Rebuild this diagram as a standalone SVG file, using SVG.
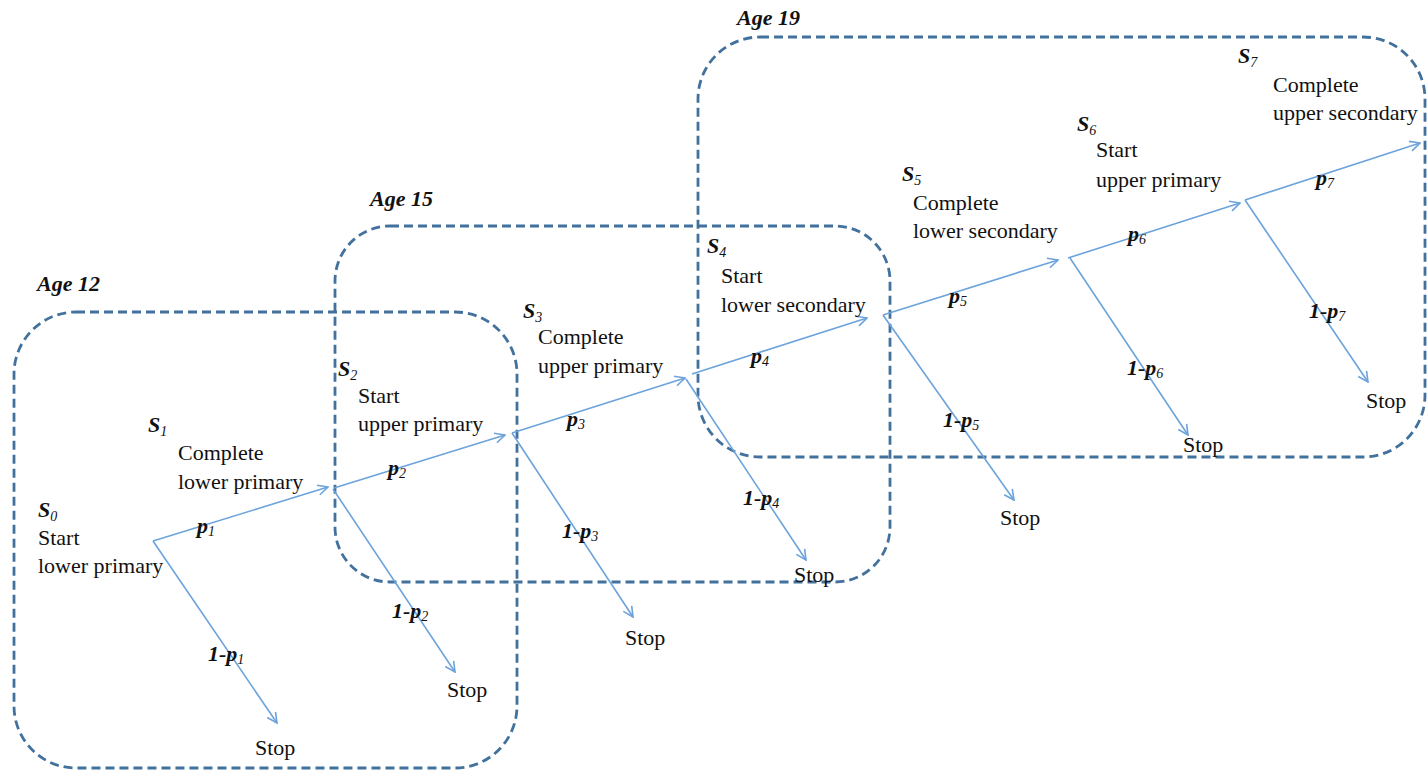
<svg xmlns="http://www.w3.org/2000/svg" width="1427" height="771" viewBox="0 0 1427 771">
<style>
.box{fill:none;stroke:#41719C;stroke-width:2.8;stroke-dasharray:9 5}
.arr{fill:none;stroke:#6CA3DC;stroke-width:1.6;marker-end:url(#ah)}
.t{font-family:"Liberation Serif","Times New Roman",serif;font-size:22px;fill:#111}
.b{font-family:"Liberation Serif","Times New Roman",serif;font-size:22px;font-weight:bold;font-style:italic;fill:#111}
.sub{font-size:14px;font-weight:normal}
.age{font-family:"Liberation Serif","Times New Roman",serif;font-size:22px;font-weight:bold;font-style:italic;fill:#111}
</style>
<defs>
<marker id="ah" viewBox="0 0 12 12" refX="11" refY="6" markerWidth="12" markerHeight="12" markerUnits="userSpaceOnUse" orient="auto">
<path d="M1,1 L11,6 L1,11" fill="none" stroke="#6CA3DC" stroke-width="1.6"/>
</marker>
</defs>
<rect width="1427" height="771" fill="#fff"/>
<g id="age12">
<rect class="box" x="14" y="312" width="503" height="456" rx="62"/>
<text class="age" x="37" y="291">Age 12</text>
</g>
<g id="age15">
<rect class="box" x="335" y="226" width="555" height="356" rx="55"/>
<text class="age" x="370" y="206">Age 15</text>
</g>
<g id="age19">
<rect class="box" x="698" y="37" width="727" height="420" rx="62"/>
<text class="age" x="737" y="25">Age 19</text>
</g>
<g id="connectors">
<line class="arr" x1="153" y1="541" x2="328" y2="487"/>
<line class="arr" x1="153" y1="541" x2="277" y2="723"/>
<line class="arr" x1="334" y1="488" x2="505" y2="435"/>
<line class="arr" x1="333" y1="489" x2="455" y2="672"/>
<line class="arr" x1="512" y1="433" x2="685" y2="378"/>
<line class="arr" x1="512" y1="433" x2="633" y2="617"/>
<line class="arr" x1="692" y1="374" x2="867" y2="318"/>
<line class="arr" x1="686" y1="379" x2="806" y2="560"/>
<line class="arr" x1="883" y1="315" x2="1058" y2="260"/>
<line class="arr" x1="883" y1="315" x2="1014" y2="500"/>
<line class="arr" x1="1068" y1="258" x2="1240" y2="203"/>
<line class="arr" x1="1070" y1="258" x2="1188" y2="435"/>
<line class="arr" x1="1245" y1="200" x2="1420" y2="143"/>
<line class="arr" x1="1245" y1="200" x2="1368" y2="382"/>
</g>
<g id="s0">
<text class="b" x="38" y="517">S<tspan class="sub" dy="4">0</tspan></text>
<text class="t" x="38" y="545">Start</text>
<text class="t" x="38" y="573">lower primary</text>
</g>
<g id="s1">
<text class="b" x="148" y="432">S<tspan class="sub" dy="4">1</tspan></text>
<text class="t" x="178" y="460">Complete</text>
<text class="t" x="178" y="489">lower primary</text>
</g>
<g id="s2">
<text class="b" x="338" y="376">S<tspan class="sub" dy="4">2</tspan></text>
<text class="t" x="358" y="403">Start</text>
<text class="t" x="358" y="431">upper primary</text>
</g>
<g id="s3">
<text class="b" x="523" y="318">S<tspan class="sub" dy="4">3</tspan></text>
<text class="t" x="538" y="344">Complete</text>
<text class="t" x="538" y="373">upper primary</text>
</g>
<g id="s4">
<text class="b" x="707" y="253">S<tspan class="sub" dy="4">4</tspan></text>
<text class="t" x="721" y="283">Start</text>
<text class="t" x="721" y="312">lower secondary</text>
</g>
<g id="s5">
<text class="b" x="902" y="181">S<tspan class="sub" dy="4">5</tspan></text>
<text class="t" x="913" y="210">Complete</text>
<text class="t" x="913" y="238">lower secondary</text>
</g>
<g id="s6">
<text class="b" x="1077" y="131">S<tspan class="sub" dy="4">6</tspan></text>
<text class="t" x="1096" y="157">Start</text>
<text class="t" x="1096" y="187">upper primary</text>
</g>
<g id="s7">
<text class="b" x="1238" y="63">S<tspan class="sub" dy="4">7</tspan></text>
<text class="t" x="1273" y="92">Complete</text>
<text class="t" x="1273" y="120">upper secondary</text>
</g>
<g id="labels">
<text class="b" x="197" y="533">p<tspan class="sub" dy="3">1</tspan></text>
<text class="b" x="388" y="475">p<tspan class="sub" dy="3">2</tspan></text>
<text class="b" x="567" y="426">p<tspan class="sub" dy="3">3</tspan></text>
<text class="b" x="751" y="363">p<tspan class="sub" dy="3">4</tspan></text>
<text class="b" x="949" y="303">p<tspan class="sub" dy="3">5</tspan></text>
<text class="b" x="1128" y="241">p<tspan class="sub" dy="3">6</tspan></text>
<text class="b" x="1316" y="185">p<tspan class="sub" dy="3">7</tspan></text>
<text class="b" x="208" y="661">1-p<tspan class="sub" dy="3">1</tspan></text>
<text class="b" x="392" y="618">1-p<tspan class="sub" dy="3">2</tspan></text>
<text class="b" x="562" y="538">1-p<tspan class="sub" dy="3">3</tspan></text>
<text class="b" x="743" y="505">1-p<tspan class="sub" dy="3">4</tspan></text>
<text class="b" x="943" y="427">1-p<tspan class="sub" dy="3">5</tspan></text>
<text class="b" x="1127" y="375">1-p<tspan class="sub" dy="3">6</tspan></text>
<text class="b" x="1309" y="318">1-p<tspan class="sub" dy="3">7</tspan></text>
</g>
<g id="stops">
<text class="t" x="255" y="755">Stop</text>
<text class="t" x="447" y="697">Stop</text>
<text class="t" x="625" y="645">Stop</text>
<text class="t" x="794" y="582">Stop</text>
<text class="t" x="1000" y="525">Stop</text>
<text class="t" x="1183" y="452">Stop</text>
<text class="t" x="1366" y="408">Stop</text>
</g>
</svg>
